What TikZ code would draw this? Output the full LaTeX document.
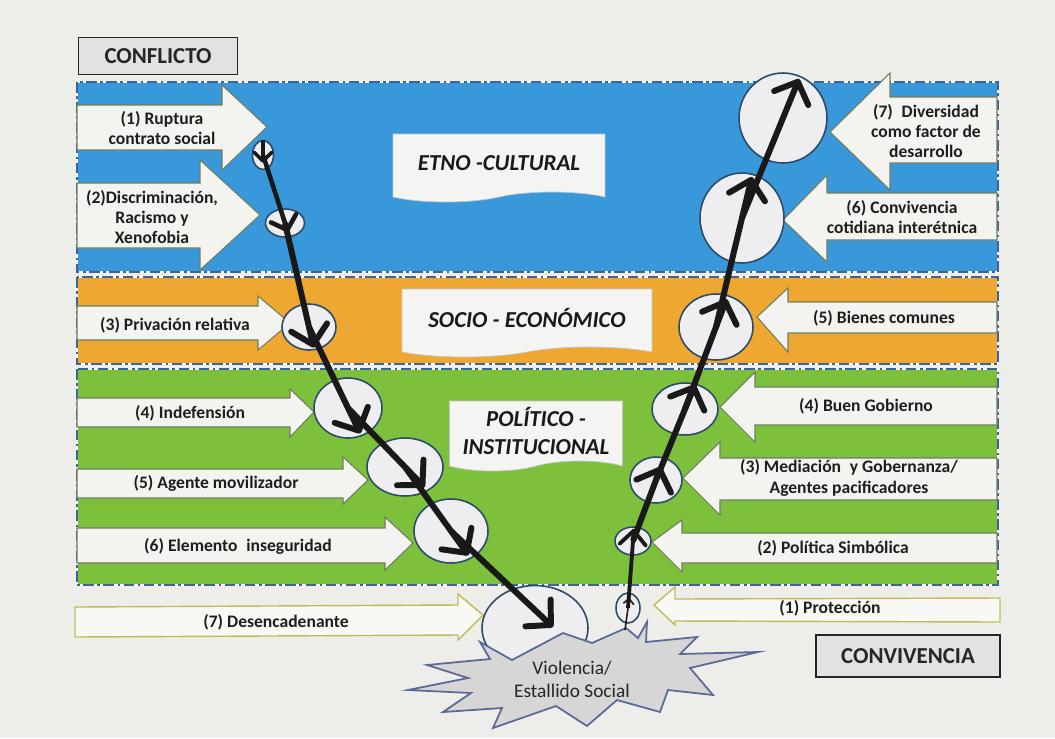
\documentclass[tikz,border=0pt]{standalone}
\usepackage{fontspec}
\setmainfont{Carlito}
\usetikzlibrary{arrows.meta, shapes.geometric, shapes.symbols}

\definecolor{paper}{RGB}{237,237,234}
\definecolor{bandblue}{RGB}{56,152,218}
\definecolor{bandorange}{RGB}{238,168,50}
\definecolor{bandgreen}{RGB}{125,192,60}
\definecolor{bandline}{RGB}{60,100,150}
\definecolor{arrowfill}{RGB}{243,243,239}
\definecolor{arrowline}{RGB}{110,125,95}
\definecolor{ringfill}{RGB}{238,238,240}
\definecolor{ringline}{RGB}{45,75,105}
\definecolor{tagfill}{RGB}{244,244,242}
\definecolor{burstfill}{RGB}{214,214,214}
\definecolor{burstedge}{RGB}{90,105,150}
\definecolor{inkgray}{RGB}{30,30,30}
\definecolor{boxfill}{RGB}{226,226,226}

\begin{document}
\begin{tikzpicture}[x=0.02cm, y=-0.02cm,
      band/.style={line width=1.1pt, draw=bandline, dash pattern=on 6pt off 2pt on 1.5pt off 2pt},
      bandgap/.style={line width=1.1pt, draw=white},
      bigarrow/.style={fill=arrowfill, draw=arrowline, line width=0.6pt},
      lightarrow/.style={fill=arrowfill!60!white, draw=olive!55, line width=0.8pt},
      armtext/.style={font=\fontsize{10}{11.5}\selectfont\bfseries, text=inkgray, align=center, inner sep=0pt},
      tag/.style={tape, tape bend top=none, tape bend bottom=in and out, tape bend height=0.2cm, fill=tagfill, draw=gray!45, align=center, inner sep=0pt, font=\fontsize{13}{15.5}\selectfont\bfseries\itshape, text=black!90},
      pole/.style={rectangle, draw=black!85, line width=1pt, fill=boxfill, inner sep=0pt, font=\fontsize{13}{15}\selectfont\bfseries, text=black!85},
      ring/.style={ellipse, draw=ringline, line width=0.9pt, fill=ringfill, inner sep=0pt},
      burstshape/.style={fill=burstfill, draw=burstedge, line width=1pt, line join=miter},
      bursttext/.style={font=\fontsize{11}{13}\selectfont, text=black!85, align=center, inner sep=0pt},
      fall/.style={line width=3.4pt, draw=black!90, -{Straight Barb[length=10pt, width=21pt, round]}},
      climb/.style={line width=3.4pt, draw=black!90, -{Straight Barb[length=10pt, width=21pt, round]}}
      ]

      % paper
      \useasboundingbox (0,0) rectangle (1055,738);
      \fill[paper] (0,0) rectangle (1055,738);

      % Bands
      \fill[bandblue] (77,82) rectangle (998,272);
      \fill[bandorange] (77,277) rectangle (998,364);
      \fill[bandgreen] (77,369) rectangle (998,585);
      \draw[bandgap] (77,82) rectangle (998,272);
      \draw[bandgap] (77,277) rectangle (998,364);
      \draw[bandgap] (77,369) rectangle (998,585);
      \draw[band] (77,82) rectangle (998,272);
      \draw[band] (77,277) rectangle (998,364);
      \draw[band] (77,369) rectangle (998,585);

      % Conflict side arrows
      \draw[bigarrow] (77,105) -- (222,105) -- (222,85) -- (267,127) -- (222,170) -- (222,150) -- (77,150) -- cycle;
      \draw[bigarrow] (77,183) -- (200,183) -- (200,160) -- (260,215) -- (200,270) -- (200,248) -- (77,248) -- cycle;
      \draw[bigarrow] (77,306) -- (258,306) -- (258,296) -- (290,323) -- (258,350) -- (258,340) -- (77,340) -- cycle;
      \draw[bigarrow] (77,398) -- (290,398) -- (290,389) -- (314,412) -- (290,437) -- (290,427) -- (77,427) -- cycle;
      \draw[bigarrow] (77,469) -- (343,469) -- (343,457) -- (368,480) -- (343,504) -- (343,498) -- (77,498) -- cycle;
      \draw[bigarrow] (77,528) -- (385,528) -- (385,517) -- (413,543) -- (385,570) -- (385,563) -- (77,563) -- cycle;
      \draw[lightarrow] (75,607) -- (458,605) -- (458,594) -- (483,615) -- (458,640) -- (458,635) -- (75,637) -- cycle;

      \node[armtext] (ruptura) at (162,128) {(1) Ruptura\\contrato social};
      \node[armtext] (discrim) at (152,217) {(2)Discriminación,\\Racismo y\\Xenofobia};
      \node[armtext] (privacion) at (175,325) {(3) Privación relativa};
      \node[armtext] (indefension) at (190,413) {(4) Indefensión};
      \node[armtext] (agente) at (216,483) {(5) Agente movilizador};
      \node[armtext] (inseguridad) at (238,546) {(6) Elemento\enspace inseguridad};
      \node[armtext] (desencadenante) at (276,622) {(7) Desencadenante};

      % Coexistence side arrows
      \draw[bigarrow] (997,97) -- (890,97) -- (890,73) -- (830,132) -- (890,190) -- (890,163) -- (997,163) -- cycle;
      \draw[bigarrow] (997,193) -- (827,193) -- (827,175) -- (783,220) -- (827,262) -- (827,240) -- (997,240) -- cycle;
      \draw[bigarrow] (997,302) -- (788,302) -- (788,288) -- (757,317) -- (788,352) -- (788,333) -- (997,333) -- cycle;
      \draw[bigarrow] (997,387) -- (755,387) -- (755,372) -- (720,407) -- (755,442) -- (755,425) -- (997,425) -- cycle;
      \draw[bigarrow] (997,458) -- (720,458) -- (720,442) -- (683,478) -- (720,515) -- (720,500) -- (997,500) -- cycle;
      \draw[bigarrow] (997,533) -- (682,533) -- (682,520) -- (652,542) -- (682,572) -- (682,563) -- (997,563) -- cycle;
      \draw[lightarrow] (1000,598) -- (675,599) -- (675,587) -- (654,605) -- (675,625) -- (675,621) -- (1000,622) -- cycle;

      \node[armtext] (diversidad) at (926,131) {(7)\enspace Diversidad\\como factor de\\desarrollo};
      \node[armtext] (convivencia) at (902,217) {(6) Convivencia\\cotidiana interétnica};
      \node[armtext] (bienes) at (884,318) {(5) Bienes comunes};
      \node[armtext] (gobierno) at (866,406) {(4) Buen Gobierno};
      \node[armtext] (mediacion) at (849,478) {(3) Mediación\enspace y Gobernanza/\\Agentes pacificadores};
      \node[armtext] (simbolica) at (833,548) {(2) Política Simbólica};
      \node[armtext] (proteccion) at (830,608) {(1) Protección};

      % Band labels
      \node[tag, minimum width=4.24cm, minimum height=1.36cm] (etno) at (499,163) {ETNO -CULTURAL};
      \node[tag, minimum width=5.0cm, minimum height=1.36cm] (socio) at (527,318) {SOCIO - ECONÓMICO};
      \node[tag, minimum width=3.46cm, minimum height=1.4cm] (politico) at (536,431) {POLÍTICO -\\INSTITUCIONAL};

      % Poles
      \node[pole, minimum width=3.18cm, minimum height=0.74cm] (conflicto) at (158,56) {CONFLICTO};
      \node[pole, minimum width=3.68cm, minimum height=0.84cm] (convive) at (908,656) {CONVIVENCIA};

      % Circles, conflict path
      \node[ring, minimum width=0.42cm, minimum height=0.58cm] (c1) at (263,155) {};
      \node[ring, minimum width=0.78cm, minimum height=0.56cm] (c2) at (285,223) {};
      \node[ring, minimum width=1.08cm, minimum height=0.92cm] (c3) at (309,327) {};
      \node[ring, minimum width=1.36cm, minimum height=1.2cm] (c4) at (348,408) {};
      \node[ring, minimum width=1.52cm, minimum height=1.16cm] (c5) at (405,467) {};
      \node[ring, minimum width=1.48cm, minimum height=1.28cm] (c6) at (451,531) {};
      \node[ring, minimum width=2.12cm, minimum height=1.7cm] (c7) at (535,628) {};

      % Circles, coexistence path
      \node[ring, minimum width=0.48cm, minimum height=0.6cm] (r1) at (628,608) {};
      \node[ring, minimum width=0.72cm, minimum height=0.56cm] (r2) at (633,541) {};
      \node[ring, minimum width=1.04cm, minimum height=0.92cm] (r3) at (656,480) {};
      \node[ring, minimum width=1.32cm, minimum height=1.04cm] (r4) at (685,409) {};
      \node[ring, minimum width=1.48cm, minimum height=1.32cm] (r5) at (716,327) {};
      \node[ring, minimum width=1.68cm, minimum height=1.8cm] (r6) at (742,218) {};
      \node[ring, minimum width=1.76cm, minimum height=1.8cm] (r7) at (783,118) {};

      % Outbreak
      \draw[burstshape] (480,642) -- (512,660) -- (563,633) -- (592,643) -- (626,628) -- (638,638)
            -- (647,622) -- (646,642) -- (697,637) -- (680,654) -- (758,652) -- (690,668)
            -- (713,695) -- (668,690) -- (660,712) -- (617,700) -- (587,726) -- (556,706)
            -- (493,728) -- (502,708) -- (443,712) -- (471,693) -- (408,690) -- (468,678)
            -- (427,665) -- (490,659) -- cycle;
      \node[bursttext] (burst) at (572,679) {Violencia/\\Estallido Social};

      \coordinate (impact) at (553,627);
      \coordinate (rise) at (625,630);

      % Conflict path
      \draw[fall, line width=2pt, -{Straight Barb[length=5pt, width=10pt, round]}, shorten >=-4.5pt] (c1.north) -- (c1.center);
      \draw[fall, line width=2.6pt, -{Straight Barb[length=7pt, width=15pt, round]}, shorten >=-5.5pt] (c1.center) -- (c2.center);
      \draw[fall, shorten >=-12pt] (c2.center) -- (c3.center);
      \draw[fall, shorten >=-16pt] (c3.center) -- (c4.center);
      \draw[fall, shorten >=-16pt] (c4.center) -- (c5.center);
      \draw[fall, shorten >=-17pt] (c5.center) -- (c6.center);
      \draw[fall] (c6.center) -- (impact);

      % Coexistence path
      \draw[climb, line width=0.9pt, -{Straight Barb[length=3pt, width=6pt]}, shorten >=-6pt] (rise) -- (r1.center);
      \draw[climb, line width=2.2pt, -{Straight Barb[length=8pt, width=15pt, round]}, shorten >=-7pt] (r1.center) -- (r2.center);
      \draw[climb, shorten >=-8pt] (r2.center) -- (r3.center);
      \draw[climb, shorten >=-15pt] (r3.center) -- (r4.center);
      \draw[climb, shorten >=-17pt] (r4.center) -- (r5.center);
      \draw[climb, shorten >=-24pt] (r5.center) -- (r6.center);
      \draw[climb, shorten >=-24pt] (r6.center) -- (r7.center);

   \end{tikzpicture}
\end{document}
